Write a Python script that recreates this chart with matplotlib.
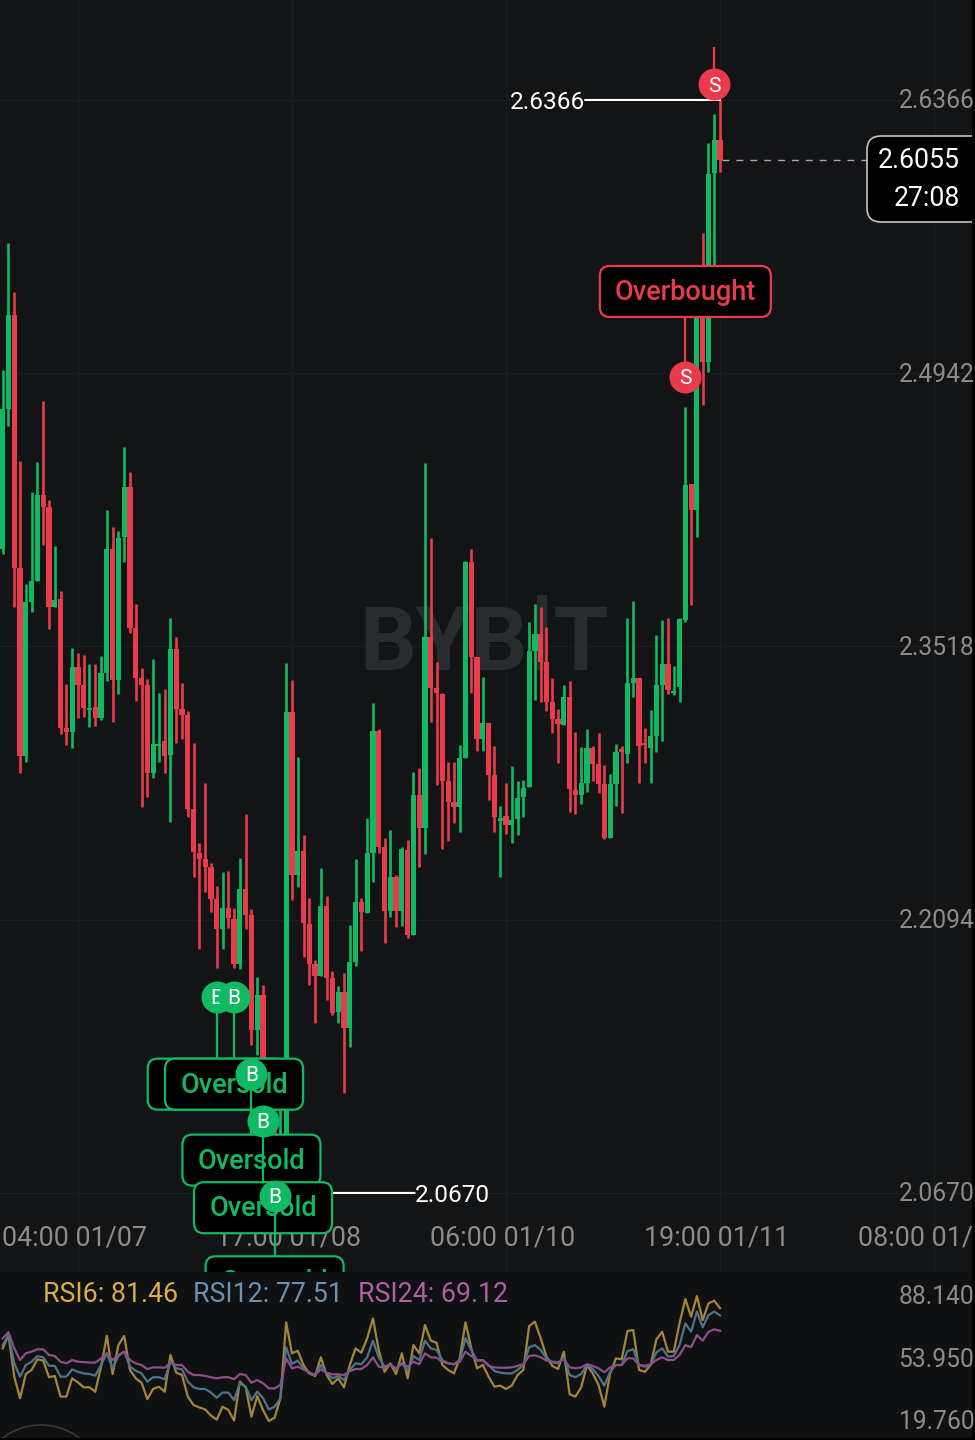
import numpy as np
import matplotlib
matplotlib.use("Agg")
import matplotlib.pyplot as plt
from matplotlib.patches import FancyBboxPatch, Circle, Rectangle
from matplotlib.transforms import IdentityTransform, Affine2D

plt.rcParams['font.family'] = ['Roboto', 'DejaVu Sans']

# hourly candles
highs = [2.4959, 2.5621, 2.5366, 2.4485, 2.3844, 2.4324, 2.4480, 2.4798, 2.4282, 2.4042,
         2.3808, 2.3323, 2.3511, 2.3485, 2.3474, 2.3428, 2.3428, 2.3469, 2.4230, 2.4141,
         2.4121, 2.4558, 2.4428, 2.3740, 2.3407, 2.3349, 2.3454, 2.3277, 2.3297, 2.3667,
         2.3568, 2.3329, 2.3183, 2.3016, 2.2495, 2.2808, 2.2391, 2.2271, 2.2344, 2.2349,
         2.2156, 2.2417, 2.2646, 2.2151, 2.1797, 2.1755, 2.1156, 2.1000, 2.1156, 2.3433,
         2.3344, 2.2943, 2.2537, 2.2208, 2.1885, 2.2365, 2.2219, 2.1828, 2.1750, 2.1818,
         2.2068, 2.2412, 2.2208, 2.2625, 2.3224, 2.3089, 2.2521, 2.2563, 2.2328, 2.2474,
         2.2511, 2.2865, 2.2886, 2.4475, 2.4084, 2.3438, 2.3277, 2.2917, 2.2917, 2.3006,
         2.3964, 2.4027, 2.3464, 2.3360, 2.3120, 2.3000, 2.2688, 2.2808, 2.2896, 2.2818,
         2.2823, 2.3646, 2.3740, 2.3725, 2.3620, 2.3355, 2.3193, 2.3318, 2.3339, 2.3073,
         2.2995, 2.3089, 2.3000, 2.3068, 2.2901, 2.2854, 2.3011, 2.3000, 2.3667, 2.3756,
         2.3355, 2.3094, 2.3188, 2.3579, 2.3657, 2.3667, 2.3417, 2.3667, 2.4767, 2.4365,
         2.5350, 2.5673, 2.6142, 2.6293, 2.6366]
lows = [2.4001, 2.4668, 2.3725, 2.2860, 2.2917, 2.3699, 2.3860, 2.4048, 2.3610, 2.3725,
        2.3063, 2.3006, 2.2990, 2.3146, 2.3151, 2.3099, 2.3105, 2.3136, 2.3339, 2.3125,
        2.3271, 2.3959, 2.3589, 2.3235, 2.2683, 2.2735, 2.2834, 2.2917, 2.2860, 2.2604,
        2.3016, 2.3037, 2.2630, 2.2318, 2.1943, 2.2240, 2.2135, 2.1844, 2.1943, 2.2052,
        2.1844, 2.1839, 2.2047, 2.1443, 2.1390, 2.1026, 2.0896, 2.0670, 2.0687, 2.0817,
        2.2198, 2.2266, 2.1901, 2.1755, 2.1557, 2.1802, 2.1677, 2.1599, 2.1557, 2.1193,
        2.1432, 2.1854, 2.1932, 2.2130, 2.2292, 2.2443, 2.1974, 2.2109, 2.2057, 2.2062,
        2.2000, 2.2016, 2.2370, 2.2438, 2.3125, 2.2797, 2.2464, 2.2505, 2.2599, 2.2552,
        2.2938, 2.3277, 2.2974, 2.2974, 2.2719, 2.2552, 2.2318, 2.2542, 2.2495, 2.2537,
        2.2630, 2.2787, 2.3240, 2.3230, 2.3183, 2.3068, 2.2912, 2.3110, 2.2657, 2.2646,
        2.2698, 2.2761, 2.2818, 2.2756, 2.2516, 2.2521, 2.2688, 2.2651, 2.2912, 2.3256,
        2.2808, 2.2912, 2.2808, 2.2969, 2.3026, 2.3271, 2.3266, 2.3230, 2.3646, 2.3735,
        2.4089, 2.4777, 2.4949, 2.5376, 2.5991]
opens = [2.4027, 2.4756, 2.5246, 2.3928, 2.2948, 2.3751, 2.3860, 2.4308, 2.4246, 2.3725,
         2.3766, 2.3094, 2.3073, 2.3412, 2.3318, 2.3188, 2.3204, 2.3146, 2.3381, 2.4027,
         2.3344, 2.4089, 2.4350, 2.3615, 2.3355, 2.3318, 2.2860, 2.3000, 2.3026, 2.2953,
         2.3506, 2.3193, 2.3162, 2.2672, 2.2443, 2.2412, 2.2370, 2.2203, 2.2047, 2.2156,
         2.2099, 2.1865, 2.2255, 2.2120, 2.1521, 2.1703, 2.1114, 2.0948, 2.0713, 2.0843,
         2.3178, 2.2328, 2.2453, 2.2073, 2.1865, 2.1802, 2.2167, 2.1792, 2.1615, 2.1719,
         2.1531, 2.1875, 2.2188, 2.2130, 2.2443, 2.3078, 2.2474, 2.2141, 2.2318, 2.2141,
         2.2458, 2.2016, 2.2745, 2.2573, 2.3568, 2.3303, 2.3271, 2.2818, 2.2709, 2.2683,
         2.2938, 2.3959, 2.3464, 2.3037, 2.3120, 2.2849, 2.2610, 2.2636, 2.2589, 2.2620,
         2.2735, 2.2787, 2.3495, 2.3584, 2.3438, 2.3230, 2.3141, 2.3110, 2.3256, 2.2771,
         2.2745, 2.2808, 2.2990, 2.2907, 2.2802, 2.2521, 2.2802, 2.2985, 2.2959, 2.3329,
         2.3355, 2.3016, 2.2990, 2.3052, 2.3318, 2.3428, 2.3277, 2.3308, 2.3657, 2.4365,
         2.4230, 2.5324, 2.5001, 2.5986, 2.6158]
closes = [2.4756, 2.5246, 2.3928, 2.2948, 2.3751, 2.3860, 2.4308, 2.4246, 2.3725, 2.3761,
          2.3094, 2.3073, 2.3412, 2.3318, 2.3198, 2.3198, 2.3146, 2.3381, 2.4027, 2.3344,
          2.4084, 2.4350, 2.3615, 2.3355, 2.3318, 2.2860, 2.3011, 2.3011, 2.2948, 2.3506,
          2.3193, 2.3162, 2.2672, 2.2448, 2.2412, 2.2370, 2.2203, 2.2047, 2.2156, 2.2104,
          2.1865, 2.2255, 2.2120, 2.1521, 2.1703, 2.1114, 2.0948, 2.0713, 2.0948, 2.3178,
          2.2328, 2.2453, 2.2078, 2.1865, 2.1802, 2.2167, 2.1792, 2.1609, 2.1719, 2.1531,
          2.1875, 2.2188, 2.2135, 2.2443, 2.3078, 2.2474, 2.2141, 2.2318, 2.2141, 2.2464,
          2.2016, 2.2745, 2.2573, 2.3568, 2.3303, 2.3277, 2.2818, 2.2709, 2.2683, 2.2938,
          2.3959, 2.3464, 2.3037, 2.3120, 2.2849, 2.2630, 2.2625, 2.2589, 2.2615, 2.2729,
          2.2782, 2.3495, 2.3584, 2.3438, 2.3230, 2.3141, 2.3115, 2.3256, 2.2776, 2.2745,
          2.2808, 2.2990, 2.2907, 2.2802, 2.2521, 2.2802, 2.2969, 2.2969, 2.3329, 2.3355,
          2.3000, 2.3006, 2.3052, 2.3318, 2.3428, 2.3292, 2.3287, 2.3662, 2.4360, 2.4230,
          2.5324, 2.5001, 2.5980, 2.6158, 2.6055]

rsi6 = [59.5, 66.8, 44.0, 32.2, 45.5, 47.7, 53.5, 52.8, 43.7, 44.4, 33.1, 33.1, 43.1, 40.9, 38.2,
        38.2, 35.8, 49.5, 66.4, 45.5, 61.3, 66.3, 47.7, 43.1, 40.7, 31.8, 37.3, 38.5, 35.8, 55.9,
        46.2, 44.9, 33.1, 28.5, 27.2, 26.1, 22.7, 20.5, 27.6, 25.8, 20.0, 41.3, 38.2, 22.1, 33.4,
        25.8, 19.8, 21.5, 32.2, 73.7, 56.8, 58.2, 50.4, 45.8, 44.4, 54.6, 44.9, 40.0, 43.1, 38.2,
        50.4, 59.5, 57.1, 65.0, 75.9, 58.6, 46.7, 51.3, 45.5, 56.8, 43.1, 61.3, 56.8, 72.3, 63.7,
        62.6, 50.4, 47.7, 45.8, 54.0, 73.7, 59.5, 48.6, 50.4, 44.0, 38.5, 39.1, 37.3, 39.1, 44.9,
        47.7, 71.7, 74.1, 65.0, 55.0, 49.9, 48.2, 57.7, 34.4, 33.1, 38.2, 50.4, 45.8, 39.5, 27.6,
        45.8, 54.0, 53.5, 69.0, 69.5, 47.7, 46.7, 50.4, 64.4, 68.6, 57.7, 57.7, 73.2, 86.5, 76.8,
        88.1, 75.0, 84.1, 85.6, 81.46]
rsi12 = [61.3, 66.8, 51.3, 44.0, 50.4, 52.2, 55.3, 54.6, 50.0, 49.9, 44.0, 44.0, 48.0, 46.7, 45.8,
         45.5, 44.6, 50.4, 56.8, 48.6, 55.3, 57.7, 49.5, 47.3, 45.8, 41.3, 43.7, 43.7, 42.6, 52.2,
         48.6, 48.0, 41.3, 38.2, 37.3, 37.3, 35.3, 32.5, 35.3, 35.3, 31.2, 40.4, 38.5, 31.2, 35.8,
         32.2, 26.1, 27.6, 32.2, 60.1, 50.9, 52.8, 48.6, 45.8, 44.9, 50.4, 45.8, 43.1, 44.4, 42.2,
         47.7, 51.3, 50.8, 54.6, 63.7, 54.6, 49.5, 50.8, 48.2, 51.3, 47.3, 55.3, 53.1, 63.7, 59.5,
         58.6, 53.1, 51.3, 50.8, 53.1, 65.0, 58.6, 52.8, 53.1, 50.4, 47.1, 46.2, 45.8, 45.8, 47.7,
         50.4, 60.1, 61.3, 58.6, 54.0, 51.9, 51.3, 54.6, 44.9, 43.7, 45.5, 50.4, 48.2, 44.4, 39.1,
         46.7, 50.4, 50.4, 58.0, 59.0, 50.4, 49.5, 50.4, 57.3, 59.5, 55.0, 55.3, 61.3, 73.2, 68.6,
         79.6, 71.0, 77.7, 79.6, 77.51]
rsi24 = [65.0, 68.3, 59.5, 53.1, 56.8, 57.7, 59.0, 59.0, 55.9, 55.3, 52.2, 51.3, 53.1, 52.2, 52.0,
         51.7, 51.7, 54.0, 56.8, 53.1, 55.9, 57.7, 53.1, 51.3, 50.4, 48.2, 49.1, 49.1, 48.9, 51.7,
         50.4, 50.4, 46.7, 44.9, 44.9, 44.4, 43.7, 43.1, 43.7, 43.7, 42.6, 45.5, 44.9, 40.7, 42.2,
         40.4, 37.6, 37.6, 39.5, 54.0, 48.6, 49.5, 48.0, 46.4, 44.9, 48.0, 46.2, 45.3, 45.3, 44.9,
         47.1, 48.2, 48.2, 50.4, 54.6, 49.5, 48.9, 50.4, 48.6, 51.3, 49.5, 52.2, 50.9, 56.8, 54.6,
         54.4, 52.2, 51.3, 50.8, 52.2, 57.7, 55.3, 53.1, 52.8, 49.9, 49.1, 48.9, 48.9, 49.1, 49.9,
         50.9, 55.3, 55.7, 54.6, 52.8, 52.2, 51.9, 53.5, 49.1, 48.6, 49.1, 50.8, 49.9, 48.6, 46.4,
         49.1, 50.4, 50.4, 54.0, 54.0, 50.4, 50.0, 50.8, 53.1, 54.6, 53.1, 53.1, 55.9, 61.3, 60.1,
         66.8, 63.7, 68.6, 69.9, 69.12]

price_ticks = [2.6366, 2.4942, 2.3518, 2.2094, 2.0670]
price_labels = ['2.6366', '2.4942', '2.3518', '2.2094', '2.0670']
time_ticks = [13, 50, 87, 124, 161]
time_labels = ['04:00 01/07', '17:00 01/08', '06:00 01/10', '19:00 01/11', '08:00 01/13']
rsi_ticks = [88.14, 53.95, 19.76]
rsi_labels = ['88.140', '53.950', '19.760']

last_price = 2.6055
countdown = '27:08'
high_price = 2.6366
low_price = 2.0670

# candle index, circle price, tag price of each signal
buy_idx = [37, 40, 43, 45, 47]
buy_price = [2.1693, 2.1693, 2.1291, 2.1047, 2.0656]
buy_tag = [2.1237, 2.1237, 2.0841, 2.0593, 2.0207]
sell_idx = [118, 123]
sell_price = [2.4923, 2.6449]

GREEN = '#10B963'
RED = '#EA3B4C'
BG = '#131416'
GRID = '#1C1D1F'
TXT = '#8C8C8C'
H = 1440

fig = plt.figure(figsize=(9.75, 14.4), dpi=100, facecolor='black')
ax = fig.add_axes([0, 1 - 1272 / H, 971.5 / 975, 1272 / H], facecolor=BG)
ax_rsi = fig.add_axes([0, 1 - 1437.5 / H, 971.5 / 975, 165.5 / H], facecolor='#101113')

xlim = (-0.467, 167.47)
ax.set_xlim(*xlim)
ax.set_ylim(2.0258, 2.6887)
ax_rsi.set_xlim(*xlim)
ax_rsi.set_ylim(10.74, 101.27)

for a in (ax, ax_rsi):
    for s in a.spines.values():
        s.set_visible(False)
    a.yaxis.tick_right()
    a.tick_params(axis='y', length=0, pad=2, labelsize=17.7, labelcolor=TXT)

ax.set_axisbelow(True)
ax.set_yticks(price_ticks, price_labels)
ax.set_xticks(time_ticks, time_labels)
ax.tick_params(axis='x', length=0, pad=-34.5, labelsize=19.4, labelcolor=TXT)
ax.grid(True, color=GRID, lw=1)
for t in ax.get_yticklabels():
    t.set_ha('right')
    t.set_va('center')
    t.set_transform(t.get_transform() + Affine2D().translate(0, -1.5))
for t in ax.get_xticklabels():
    t.set_clip_on(True)
    t.set_clip_box(ax.bbox)
    # labels sit a little left of their gridline
    t.set_transform(t.get_transform() + Affine2D().translate(-3.5, 0))

ax_rsi.set_xticks([])
ax_rsi.set_yticks(rsi_ticks, rsi_labels)
for t in ax_rsi.get_yticklabels():
    t.set_ha('right')
    t.set_va('center')
    t.set_transform(t.get_transform() + Affine2D().translate(0, -1))

# watermark
ax.text(484 / 971.5, 1 - 646 / 1272, 'BYBIT', transform=ax.transAxes, ha='center', va='center',
        fontsize=64, fontweight='bold', color='#2A2B2C', zorder=1)
ax.add_patch(Rectangle((537 / 971.5, 1 - 612 / 1272), 10 / 971.5, 17 / 1272, transform=ax.transAxes,
                       fc='#2A2B2C', ec='none', zorder=1))

# candles
idx = np.arange(len(closes))
o = np.array(opens)
c = np.array(closes)
colors = [GREEN if b >= a else RED for a, b in zip(o, c)]
ax.vlines(idx, lows, highs, colors=colors, lw=1.9, zorder=3)
ax.bar(idx, np.abs(c - o), bottom=np.minimum(o, c), width=0.9, color=colors, zorder=3)


def px(x, y):
    return x, H - y


def on_screen(i, price):
    return ax.transData.transform((i, price))


def tag(cx, cy, w, h, text, color, z):
    p = FancyBboxPatch((cx - w / 2, cy - h / 2), w, h, boxstyle='round,pad=0,rounding_size=10',
                       fc='black', ec=color, lw=1.6, transform=IdentityTransform(), zorder=z)
    ax.add_patch(p)
    ax.text(cx, cy - 1, text, color=color, fontsize=19.5, fontweight=500, ha='center', va='center',
            transform=IdentityTransform(), zorder=z, clip_on=True)


def signal(i, price, tag_price, letter, text, color, z, w=138):
    ax.plot([i, i], [price, tag_price], color=color, lw=1.6, zorder=z, solid_capstyle='butt')
    if text:
        cx, cy = on_screen(i, tag_price)
        tag(cx, cy, w, 51, text, color, z + 0.1)
    ax.scatter([i], [price], s=530, color=color, linewidths=0, zorder=z + 0.2)
    ax.text(i, price, letter, color='white', fontsize=15, ha='center', va='center_baseline', zorder=z + 0.3)


def price_flag(i, price, label, offset, ha):
    # leader line and its label are separate so that the line stays level
    ax.annotate('', xy=(i, price), xytext=(offset, 0), textcoords='offset pixels', zorder=4,
                arrowprops=dict(arrowstyle='-', color='white', lw=1.5, shrinkA=0, shrinkB=0))
    ax.annotate(label, xy=(i, price), xytext=(offset, 0), textcoords='offset pixels',
                ha=ha, va='center_baseline', color='white', fontsize=17.6, zorder=4)


# high / low / last price
price_flag(124, high_price, price_labels[0], -135, 'right')
price_flag(47, low_price, price_labels[-1], 140, 'left')
ax.plot([124.3, 149.4], [last_price, last_price], color='#A8A8A8', lw=1, dashes=(5, 5), zorder=4)

lx, ly = px(867, 179)
box = FancyBboxPatch((lx, ly - 43), 140, 86, boxstyle='round,pad=0,rounding_size=14', fc='black',
                     ec='#C4C4C4', lw=1.2, transform=IdentityTransform(), zorder=6)
ax.add_patch(box)
ax.text(*px(960, 158), f'{last_price:.4f}', color='white', fontsize=19.2, ha='right', va='center_baseline',
        transform=IdentityTransform(), zorder=7)
ax.text(*px(960, 196), countdown, color='white', fontsize=19.2, ha='right', va='center_baseline',
        transform=IdentityTransform(), zorder=7)

# buy signals, later ones sit on top of earlier ones
for n, (i, p, t) in enumerate(zip(buy_idx, buy_price, buy_tag)):
    signal(i, p, t, 'B', 'Oversold', GREEN, 8 + n)

# sell signals
signal(sell_idx[0], sell_price[0], 2.5368, 'S', 'Overbought', RED, 8, w=171)
signal(sell_idx[1], sell_price[1], 2.6642, 'S', None, RED, 8)

# RSI pane
ax_rsi.plot(idx, rsi6, color='#A48636', lw=1.6)
ax_rsi.plot(idx, rsi12, color='#4F7389', lw=1.6)
ax_rsi.plot(idx, rsi24, color='#8E4F87', lw=1.6)
for x, s, col in [(43, f'RSI6: {rsi6[-1]:.2f}', '#D9AE4A'),
                  (193, f'RSI12: {rsi12[-1]:.2f}', '#6C92B0'),
                  (358, f'RSI24: {rsi24[-1]:.2f}', '#B05FA3')]:
    ax_rsi.text(*px(x, 1292), s, color=col, fontsize=19.3, ha='left', va='center_baseline',
                transform=IdentityTransform())
ax_rsi.add_patch(Circle((41, -48), 63, fc='none', ec='#3A3A3C', lw=1.2, transform=IdentityTransform()))

fig.savefig('out.png', dpi=100, facecolor=fig.get_facecolor())
